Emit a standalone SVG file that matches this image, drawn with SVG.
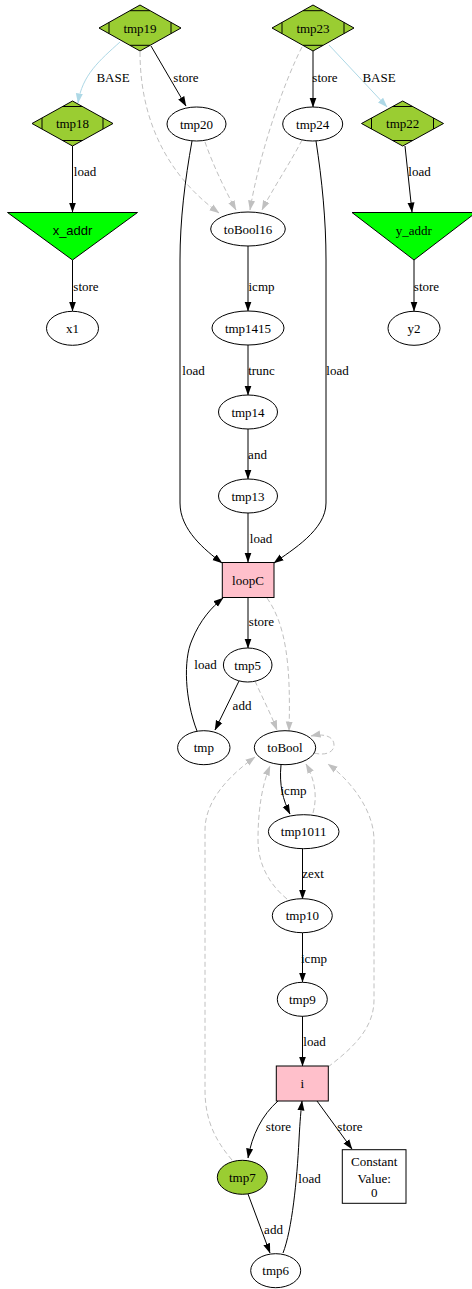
<svg xmlns="http://www.w3.org/2000/svg" width="472" height="1289" viewBox="0 0 472 1289">
  <style>
    text { font-family: "Liberation Serif", "Times New Roman", serif; font-size: 13px; text-anchor: middle; fill: #000; }
    text.sans { font-family: "Liberation Sans", Arial, sans-serif; }
    .node { stroke: #000; stroke-width: 1; }
    .plain { fill: #fff; }
    .mdia { fill: #9acd32; }
    .tri { fill: #00ff00; }
    .reg { fill: #ffc0cb; }
    .tick { stroke: #000; stroke-width: 1; fill: none; }
    .e { fill: none; stroke: #000; stroke-width: 1; marker-end: url(#ah); }
    .base { fill: none; stroke: #add8e6; stroke-width: 1; marker-end: url(#ahBlue); }
    .dep { fill: none; stroke: #c0c0c0; stroke-width: 1; stroke-dasharray: 5,3; marker-end: url(#ahGray); }
  </style>
  <defs>
    <marker id="ah" markerUnits="userSpaceOnUse" markerWidth="10" markerHeight="8" refX="9.5" refY="3.5" orient="auto" viewBox="0 0 10 7">
      <path d="M0,0 L10,3.5 L0,7 z" fill="#000"/>
    </marker>
    <marker id="ahBlue" markerUnits="userSpaceOnUse" markerWidth="10" markerHeight="8" refX="9.5" refY="3.5" orient="auto" viewBox="0 0 10 7">
      <path d="M0,0 L10,3.5 L0,7 z" fill="#add8e6"/>
    </marker>
    <marker id="ahGray" markerUnits="userSpaceOnUse" markerWidth="10" markerHeight="8" refX="9.5" refY="3.5" orient="auto" viewBox="0 0 10 7">
      <path d="M0,0 L10,3.5 L0,7 z" fill="#c0c0c0"/>
    </marker>
  </defs>

  <rect width="472" height="1289" fill="#fff"/>

  <!-- connectors -->
  <g id="edges">
    <path class="base" d="M120,42 C100,60 82,75 78,103"/>
    <text x="113" y="81.5">BASE</text>
    <path class="e" d="M151,46 L186,106"/>
    <text x="186" y="81.5">store</text>
    <path class="dep" d="M140,52 C140,110 160,170 219,213"/>
    <path class="dep" d="M205,142 C213,165 225,190 236,210"/>
    <path class="dep" d="M302,47 C285,80 260,150 250,210"/>
    <path class="dep" d="M302,140 C292,160 272,190 262,210"/>
    <path class="e" d="M313,51 L313,107"/>
    <text x="325" y="81.5">store</text>
    <path class="base" d="M329,45 L387,107"/>
    <text x="379" y="81.5">BASE</text>

    <path class="e" d="M72.5,146 L72.5,212"/>
    <text x="85" y="176">load</text>
    <path class="e" d="M72.5,260 L72.5,311"/>
    <text x="86" y="291">store</text>
    <path class="e" d="M405,146 L412,212"/>
    <text x="419.5" y="176">load</text>
    <path class="e" d="M414,260 L414,311"/>
    <text x="426.5" y="291">store</text>

    <path class="e" d="M192,141 C185,180 180,220 180,260 L180,503 C180,530 205,550 222,563"/>
    <text x="193.5" y="375">load</text>
    <path class="e" d="M316,141 C322,180 326,220 326,260 L326,503 C326,530 292,550 274,563"/>
    <text x="337.5" y="375">load</text>

    <path class="e" d="M248,246 L248,311"/>
    <text x="261.5" y="291">icmp</text>
    <path class="e" d="M248,345 L248,395"/>
    <text x="261.5" y="375">trunc</text>
    <path class="e" d="M248,429 L248,479"/>
    <text x="257.5" y="459">and</text>
    <path class="e" d="M248,513 L248,562"/>
    <text x="261" y="543">load</text>

    <path class="e" d="M248,597 L248,648"/>
    <text x="261.5" y="626">store</text>
    <path class="dep" d="M267,598 C286,625 291,665 289,731"/>
    <path class="dep" d="M255,681 C262,697 270,712 277,730"/>
    <path class="e" d="M239,681 L215,730"/>
    <text x="242" y="710">add</text>
    <path class="e" d="M197,731 C185,700 183,660 192,640 C200,620 212,607 223,598"/>
    <text x="205.5" y="668.5">load</text>

    <path class="e" d="M281,765 C279,785 283,800 290,814"/>
    <text x="293.5" y="795">icmp</text>
    <path class="dep" d="M313,813 C318,795 314,778 306,764"/>
    <path class="dep" d="M314,753 C326,756 334,752 334,745 C334,737 325,733 311,736"/>
    <path class="dep" d="M287,899 C270,885 258,865 258,840 C258,810 262,785 270,766"/>
    <path class="dep" d="M328,1067 C350,1050 374,1030 374,1000 L374,840 C374,810 350,780 328,764"/>
    <path class="dep" d="M232,1160 C215,1140 205,1120 205,1090 L205,830 C205,800 230,775 255,757"/>

    <path class="e" d="M302.5,849 L302.5,899"/>
    <text x="313" y="878">zext</text>
    <path class="e" d="M302.5,933 L302.5,982"/>
    <text x="314" y="962.5">icmp</text>
    <path class="e" d="M302.5,1016 L302.5,1066"/>
    <text x="314.5" y="1046">load</text>

    <path class="e" d="M278,1101 C262,1115 252,1135 248,1158"/>
    <text x="278.5" y="1130.5">store</text>
    <path class="e" d="M317,1101 L352,1149"/>
    <text x="350" y="1130.5">store</text>
    <path class="e" d="M248,1194 L270,1253"/>
    <text x="273.5" y="1233.5">add</text>
    <path class="e" d="M283,1253 C292,1230 297,1180 299,1140 C300,1120 301,1110 302,1101"/>
    <text x="309.5" y="1182.5">load</text>
  </g>

  <!-- nodes -->
  <g id="tmp19">
    <polygon class="node mdia" points="140,5 181,28 140,51 99,28"/>
    <path class="tick" d="M130,10.7 L150,10.7 M130,45.3 L150,45.3 M109,22.4 L109,33.6 M171,22.4 L171,33.6"/>
    <text x="140" y="32.5">tmp19</text>
  </g>
  <g id="tmp18">
    <polygon class="node mdia" points="72.5,101 113,123.5 72.5,146 32,123.5"/>
    <path class="tick" d="M62.5,106.5 L82.5,106.5 M62.5,140.5 L82.5,140.5 M42,118 L42,129 M103,118 L103,129"/>
    <text x="72.5" y="128">tmp18</text>
  </g>
  <g id="tmp20">
    <ellipse class="node plain" cx="196.5" cy="124" rx="29.5" ry="17"/>
    <text x="196.5" y="128.5">tmp20</text>
  </g>
  <g id="tmp23">
    <polygon class="node mdia" points="313,5 354,28 313,51 272,28"/>
    <path class="tick" d="M303,10.7 L323,10.7 M303,45.3 L323,45.3 M282,22.4 L282,33.6 M344,22.4 L344,33.6"/>
    <text x="313" y="32.5">tmp23</text>
  </g>
  <g id="tmp24">
    <ellipse class="node plain" cx="312.7" cy="124" rx="30" ry="17"/>
    <text x="312.7" y="128.5">tmp24</text>
  </g>
  <g id="tmp22">
    <polygon class="node mdia" points="402.7,101 443.5,123.5 402.7,146 361.5,123.5"/>
    <path class="tick" d="M392.7,106.5 L412.7,106.5 M392.7,140.5 L412.7,140.5 M371.5,118 L371.5,129 M433.5,118 L433.5,129"/>
    <text x="402.7" y="128">tmp22</text>
  </g>
  <g id="x_addr">
    <polygon class="node tri" points="7.5,212.5 137.5,212.5 72.5,260"/>
    <text class="sans" x="72.5" y="234.5">x_addr</text>
  </g>
  <g id="y_addr">
    <polygon class="node tri" points="352,212.5 476,212.5 414,260"/>
    <text x="413.7" y="234.5">y_addr</text>
  </g>
  <g id="x1">
    <ellipse class="node plain" cx="72.5" cy="328.3" rx="26" ry="17"/>
    <text x="72.5" y="332.8">x1</text>
  </g>
  <g id="y2">
    <ellipse class="node plain" cx="414" cy="328.3" rx="26" ry="17"/>
    <text x="414" y="332.8">y2</text>
  </g>
  <g id="toBool16">
    <ellipse class="node plain" cx="248" cy="229" rx="37.3" ry="17"/>
    <text x="248" y="233.5">toBool16</text>
  </g>
  <g id="tmp1415">
    <ellipse class="node plain" cx="248" cy="328" rx="36" ry="17"/>
    <text x="248" y="332.5">tmp1415</text>
  </g>
  <g id="tmp14">
    <ellipse class="node plain" cx="248" cy="412" rx="29.5" ry="17"/>
    <text x="248" y="416.5">tmp14</text>
  </g>
  <g id="tmp13">
    <ellipse class="node plain" cx="248" cy="496" rx="29.5" ry="17"/>
    <text x="248" y="500.5">tmp13</text>
  </g>
  <g id="loopC">
    <rect class="node reg" x="222.3" y="562.5" width="51.7" height="35"/>
    <text x="248" y="584.5">loopC</text>
  </g>
  <g id="tmp5">
    <ellipse class="node plain" cx="247.7" cy="665" rx="24.3" ry="17"/>
    <text x="247.7" y="669.5">tmp5</text>
  </g>
  <g id="tmp">
    <ellipse class="node plain" cx="203.8" cy="747.7" rx="26.2" ry="17"/>
    <text x="203.8" y="752.2">tmp</text>
  </g>
  <g id="toBool">
    <ellipse class="node plain" cx="285" cy="747.7" rx="30.7" ry="17"/>
    <text x="285" y="752.2">toBool</text>
  </g>
  <g id="tmp1011">
    <ellipse class="node plain" cx="303.7" cy="831.7" rx="35.3" ry="17"/>
    <text x="303.7" y="836.2">tmp1011</text>
  </g>
  <g id="tmp10">
    <ellipse class="node plain" cx="302.3" cy="915.7" rx="30" ry="17"/>
    <text x="302.3" y="920.2">tmp10</text>
  </g>
  <g id="tmp9">
    <ellipse class="node plain" cx="302.3" cy="999.3" rx="25" ry="17"/>
    <text x="302.3" y="1003.8">tmp9</text>
  </g>
  <g id="i">
    <rect class="node reg" x="276.3" y="1066" width="52" height="35"/>
    <text x="302.3" y="1087.8">i</text>
  </g>
  <g id="tmp7">
    <ellipse class="node mdia" cx="242.3" cy="1177.3" rx="25" ry="17"/>
    <text x="242.3" y="1181.8">tmp7</text>
  </g>
  <g id="tmp6">
    <ellipse class="node plain" cx="275.7" cy="1270.7" rx="25" ry="17"/>
    <text x="275.7" y="1275.2">tmp6</text>
  </g>
  <g id="const0">
    <rect class="node plain" x="342.3" y="1149.7" width="63.7" height="53.6"/>
    <text x="374.2" y="1166">Constant</text>
    <text x="374.2" y="1182.5">Value:</text>
    <text x="374.2" y="1197">0</text>
  </g>
</svg>
